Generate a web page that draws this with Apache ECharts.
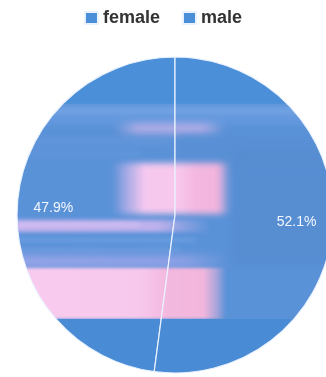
<!DOCTYPE html>
<html>
<head>
<meta charset="utf-8">
<style>
  html, body { margin: 0; padding: 0; background: #fff; }
  #chart { width: 326px; height: 377px; }
</style>
<script src="https://cdn.jsdelivr.net/npm/echarts@6/dist/echarts.min.js"></script>
</head>
<body>
<div id="chart"></div>
<script>
// ---- data ----
const categories = ['female', 'male'];
const shares = [47.9, 52.1];

// ---- texture used as the slice fill (style only) ----
function hGrad(g, x0, x1, stops) {
  const gr = g.createLinearGradient(x0, 0, x1, 0);
  stops.forEach(s => gr.addColorStop(s[0], s[1]));
  return gr;
}
function makeTexture(w, h) {
  const c = document.createElement('canvas');
  c.width = w; c.height = h;
  const g = c.getContext('2d');
  g.fillStyle = '#5a92d8';
  g.fillRect(0, 0, w, h);
  // top solid blue
  g.fillStyle = '#4a8fd8';
  g.fillRect(0, 0, w, 104);
  g.filter = 'blur(3px)';
  // light band across
  g.fillStyle = 'rgba(125,170,232,0.8)';
  g.fillRect(-20, 107, w + 40, 8);
  g.fillStyle = 'rgba(110,160,228,0.6)';
  g.fillRect(-20, 117, w + 40, 7);
  g.filter = 'blur(4px)';
  g.fillStyle = hGrad(g, 115, 225, [[0, 'rgba(220,185,235,0)'], [0.2, 'rgba(222,188,236,0.8)'], [0.8, 'rgba(222,188,236,0.8)'], [1, 'rgba(222,188,236,0)']]);
  g.fillRect(115, 124, 110, 9);
  // left light streaks in middle-upper area
  g.filter = 'blur(3px)';
  g.fillStyle = 'rgba(115,160,228,0.5)';
  g.fillRect(-20, 139, 190, 5);
  g.fillRect(-20, 151, 160, 4);
  g.fillStyle = 'rgba(90,142,212,0.55)';
  g.fillRect(180, 135, 170, 30);
  // right muted blue
  g.filter = 'blur(4px)';
  g.fillStyle = 'rgba(86,138,206,0.55)';
  g.fillRect(232, 150, 120, 115);
  // pink block
  g.filter = 'blur(3px)';
  g.fillStyle = hGrad(g, 112, 230, [
    [0, 'rgba(200,180,235,0)'],
    [0.12, 'rgba(215,185,238,0.6)'],
    [0.27, 'rgba(246,200,238,1)'],
    [0.55, 'rgba(248,200,236,1)'],
    [0.7, 'rgba(244,184,224,1)'],
    [0.9, 'rgba(242,180,220,1)'],
    [1, 'rgba(242,180,220,0)']
  ]);
  g.fillRect(112, 163, 118, 51);
  // lavender stripe
  g.filter = 'blur(2px)';
  g.fillStyle = hGrad(g, 0, 210, [[0, 'rgba(205,182,240,0.95)'], [0.75, 'rgba(200,180,238,0.9)'], [1, 'rgba(200,180,238,0)']]);
  g.fillRect(-20, 220, 230, 12);
  g.fillStyle = 'rgba(226,202,246,0.6)';
  g.fillRect(-20, 223, 160, 3);
  // light streaks below
  g.fillStyle = 'rgba(125,168,232,0.55)';
  g.fillRect(-20, 238, 215, 4);
  g.fillRect(-20, 248, 200, 3);
  g.filter = 'blur(4px)';
  g.fillStyle = hGrad(g, 0, 230, [[0, 'rgba(165,168,236,0.85)'], [0.8, 'rgba(165,168,236,0.7)'], [1, 'rgba(165,168,236,0)']]);
  g.fillRect(-20, 255, 250, 13);
  // pink band
  g.filter = 'blur(1.5px)';
  g.fillStyle = hGrad(g, 0, 226, [
    [0, '#f7cbef'],
    [0.62, '#f7c8ec'],
    [0.74, '#f3b8de'],
    [0.9, '#f2b6dc'],
    [0.96, 'rgba(242,182,220,0.5)'],
    [1, 'rgba(242,182,220,0)']
  ]);
  g.fillRect(-20, 268, 246, 51);
  g.filter = 'none';
  // bottom blue
  g.fillStyle = '#4a8bd5';
  g.fillRect(0, 319, w, h - 319);
  return c;
}

const texture = makeTexture(326, 377);

const chart = echarts.init(document.getElementById('chart'), null, { renderer: 'canvas' });

chart.setOption({
  animation: false,
  backgroundColor: '#fff',
  legend: {
    data: categories,
    top: 4,
    left: 'center',
    icon: 'rect',
    itemWidth: 13,
    itemHeight: 12,
    itemGap: 22,
    textStyle: { fontSize: 18, fontWeight: 'bold', color: '#333', fontFamily: 'Liberation Sans' },
    itemStyle: { color: '#4a8fd8' }
  },
  series: [{
    type: 'pie',
    center: [175, 215],
    radius: [0, 158],
    clockwise: false,
    startAngle: 90,
    avoidLabelOverlap: false,
    itemStyle: {
      color: { image: texture, repeat: 'no-repeat' },
      borderColor: '#eaf2ff',
      borderWidth: 1.2
    },
    label: {
      show: true,
      position: 'outside',
      distanceToLabelLine: 0,
      color: '#f4f7ff',
      fontSize: 14,
      fontFamily: 'Liberation Sans',
      formatter: p => p.percent.toFixed(1) + '%'
    },
    labelLine: { show: false, length: -56, length2: 0 },
    data: categories.map((name, i) => ({ name, value: shares[i] }))
  }]
});
</script>
</body>
</html>
